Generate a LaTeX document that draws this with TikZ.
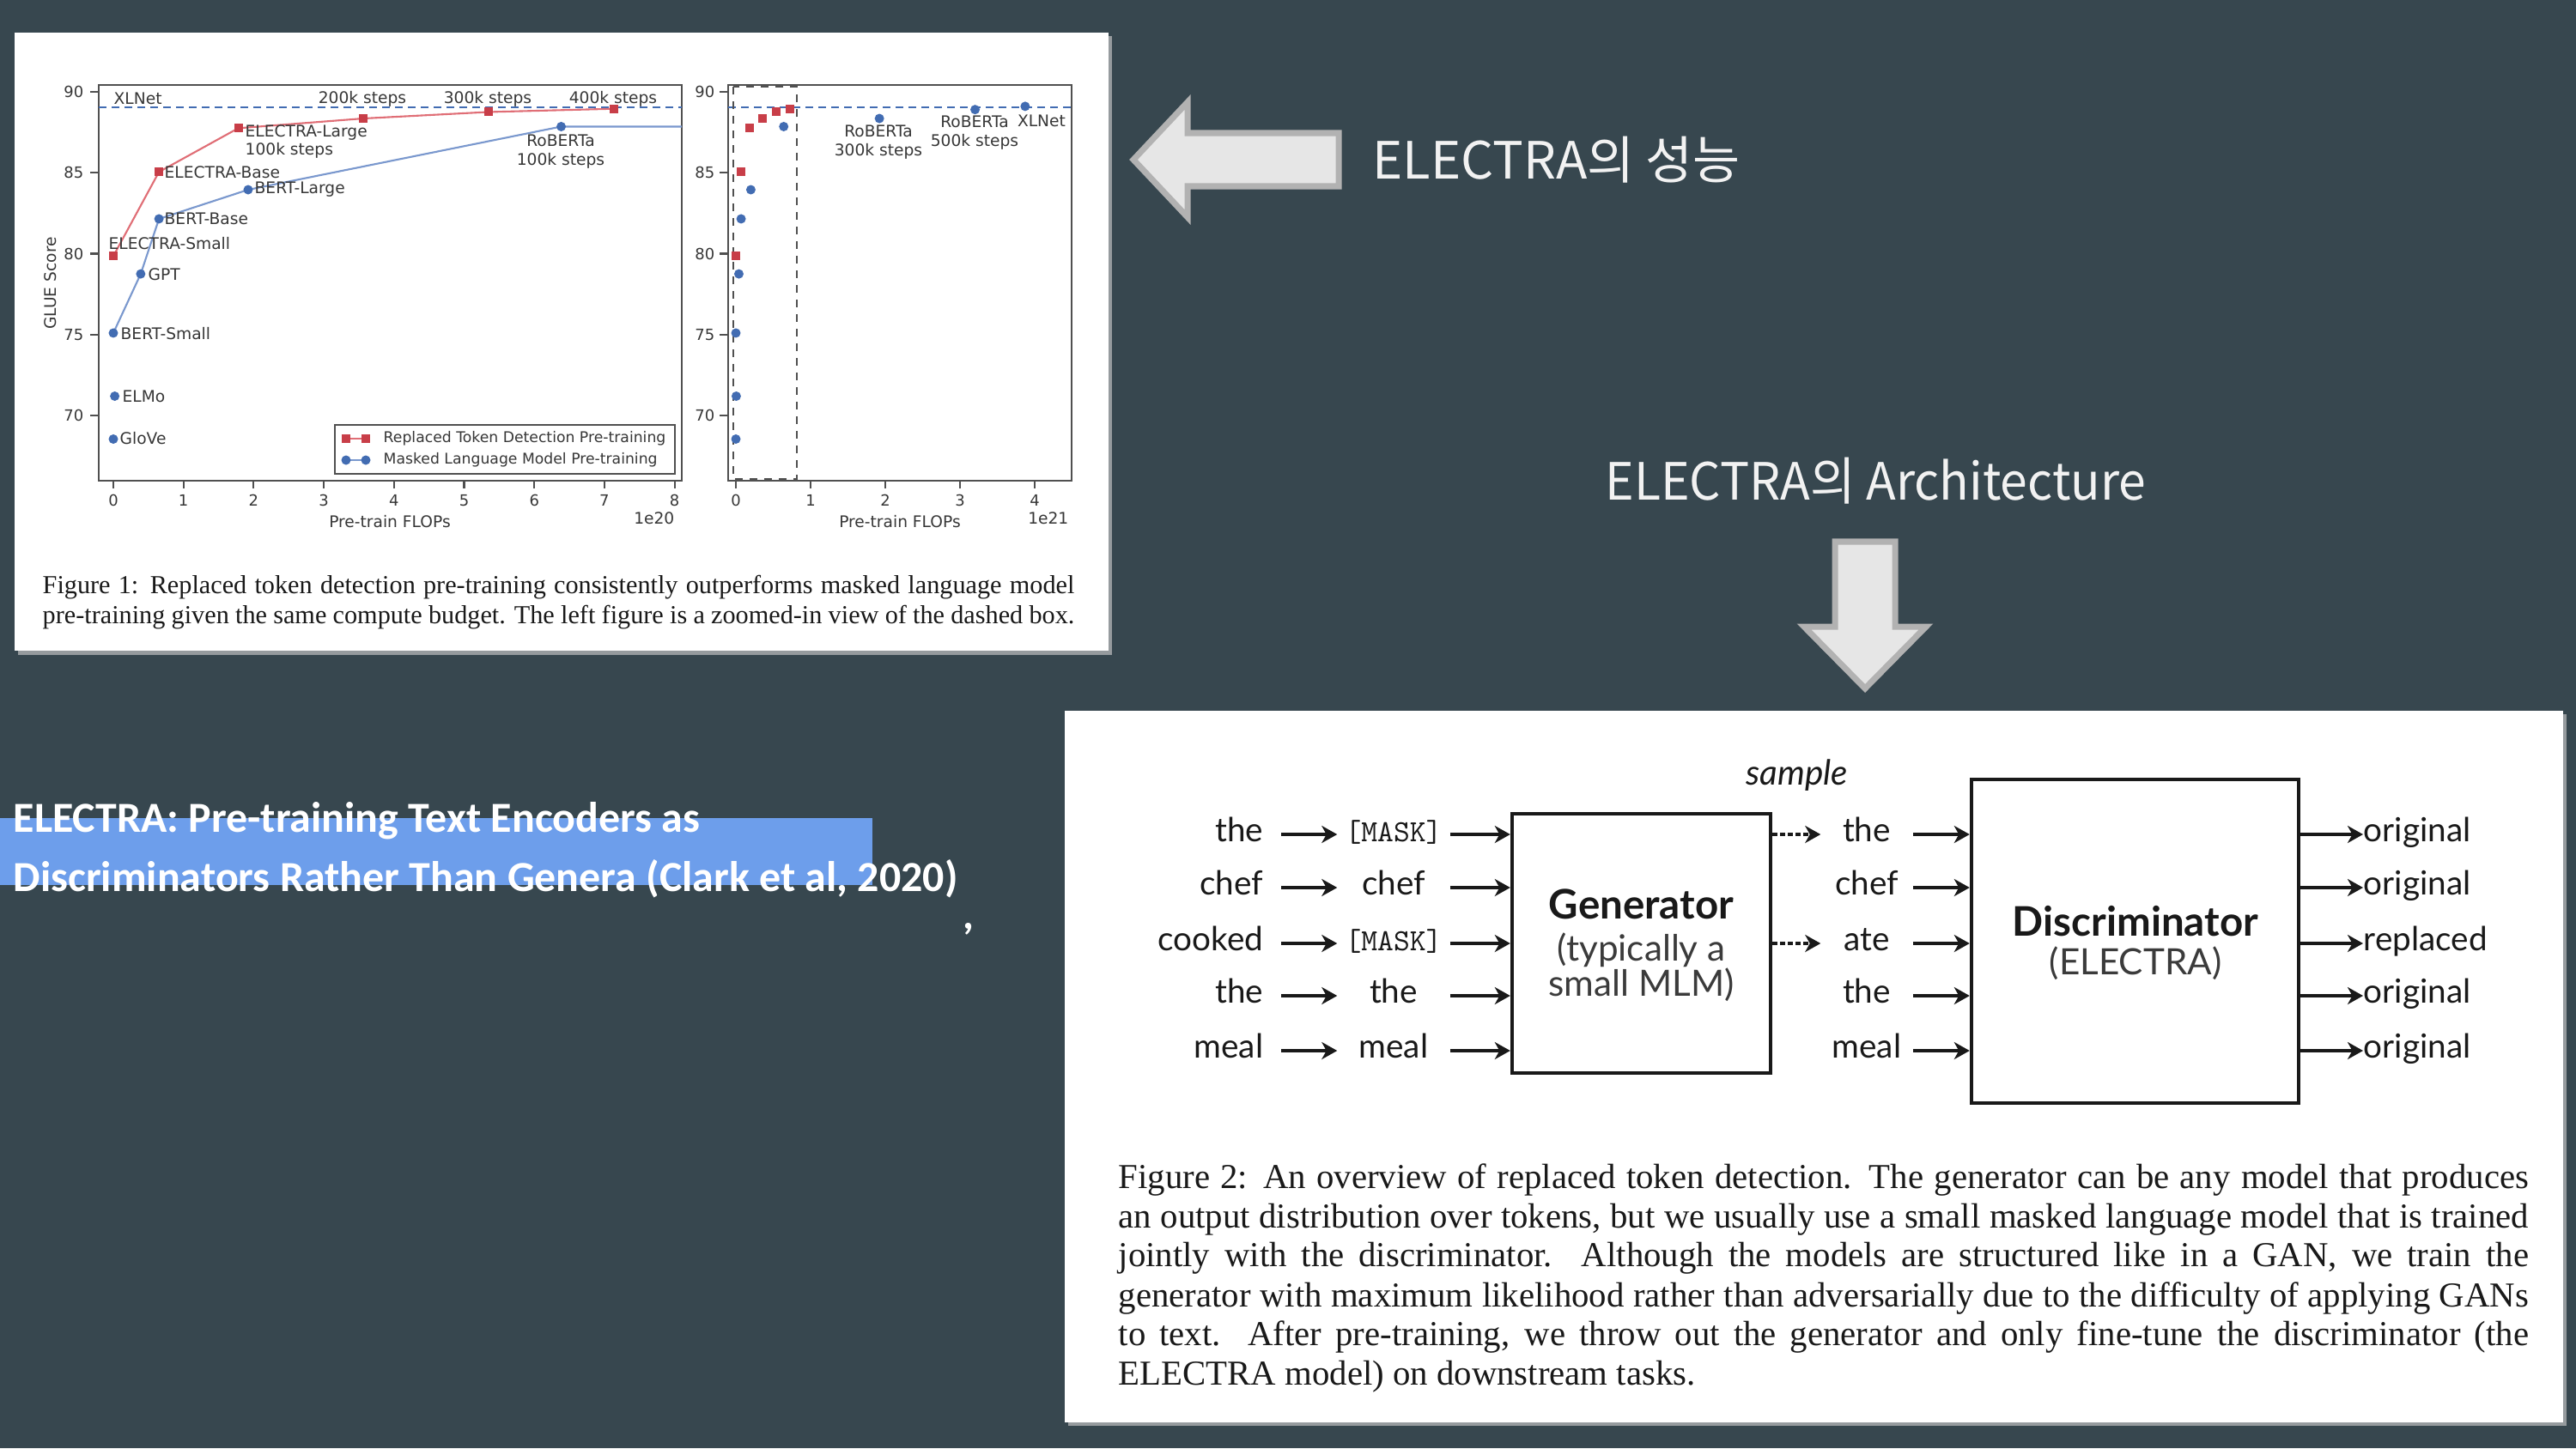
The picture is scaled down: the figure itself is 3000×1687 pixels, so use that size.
\documentclass[tikz,border=0pt]{standalone}
\usepackage{fontspec}
\setmainfont{Liberation Serif}
\newfontfamily\plotfont{DejaVu Sans}
\newfontfamily\latofont{Lato}
\newfontfamily\krfont{Noto Sans CJK KR}
\newfontfamily\titlefont{Carlito}
\usetikzlibrary{arrows.meta}

\definecolor{slate}{RGB}{55,71,79}
\definecolor{hlblue}{RGB}{109,158,235}
\definecolor{panelshade}{RGB}{150,155,158}
\definecolor{rtd}{RGB}{200,62,72}
\definecolor{rtdline}{RGB}{224,110,118}
\definecolor{mlm}{RGB}{66,108,178}
\definecolor{mlmline}{RGB}{122,152,206}
\definecolor{plottext}{RGB}{55,55,55}
\definecolor{plotframe}{RGB}{80,80,80}
\definecolor{arrowfill}{RGB}{230,230,230}
\definecolor{arrowedge}{RGB}{178,178,178}
\definecolor{slidetext}{RGB}{242,242,242}
\definecolor{ink}{RGB}{25,25,25}

\newcommand{\masktok}{{\ttfamily\fontsize{10.2pt}{12pt}\selectfont[MASK]}}

\tikzset{
  plotlbl/.style={font=\plotfont\fontsize{5.3pt}{6.2pt}\selectfont, text=plottext, inner sep=0pt},
  ticklbl/.style={font=\plotfont\fontsize{5.1pt}{6pt}\selectfont, text=plottext, inner sep=0pt},
  legendlbl/.style={font=\plotfont\fontsize{4.9pt}{6pt}\selectfont, text=plottext, inner sep=0pt},
  rsq/.style={rectangle, fill=rtd, minimum size=1mm, inner sep=0pt},
  bdot/.style={circle, fill=mlm, minimum size=1.1mm, inner sep=0pt},
  rtdcurve/.style={draw=rtdline, line width=0.6pt},
  mlmcurve/.style={draw=mlmline, line width=0.6pt},
  axframe/.style={draw=plotframe, line width=0.7pt},
  axtick/.style={draw=plotframe, line width=0.6pt},
  xlnetline/.style={draw=mlm, line width=0.8pt, dash pattern=on 0.9mm off 0.6mm},
  zoombox/.style={draw=plotframe, line width=0.75pt, dash pattern=on 0.9mm off 0.8mm},
  legendframe/.style={draw=plotframe, line width=0.5pt},
  capone/.style={font=\fontsize{8.6pt}{9.5pt}\selectfont, text=ink, inner sep=0pt, anchor=mid west},
  captwo/.style={font=\fontsize{11.6pt}{13pt}\selectfont, text=ink, inner sep=0pt, anchor=mid west},
  tok/.style={font=\latofont\fontsize{11pt}{13pt}\selectfont, text=ink, inner sep=0pt},
  tokarrow/.style={draw=ink, line width=1pt, -{Stealth[length=1.8mm, width=2mm, inset=0.55mm]}},
  samplearrow/.style={tokarrow, dash pattern=on 0.55mm off 0.35mm},
  modelbox/.style={draw=ink, line width=1.2pt, fill=white, inner sep=0pt},
  modeltitle/.style={font=\latofont\bfseries\fontsize{13.5pt}{15pt}\selectfont, text=ink, inner sep=0pt},
  modelsub/.style={font=\latofont\fontsize{12pt}{13pt}\selectfont, text=ink!85, inner sep=0pt},
  blockarrow/.style={fill=arrowfill, draw=arrowedge, line width=2pt, line join=miter},
  slidelbl/.style={font=\krfont\fontsize{17pt}{20pt}\selectfont, text=slidetext, inner sep=0pt},
  reftitle/.style={font=\titlefont\bfseries\fontsize{14.2pt}{17pt}\selectfont, text=white, inner sep=0pt},
}

\begin{document}
\begin{tikzpicture}[x=0.01cm, y=-0.01cm]
\useasboundingbox (0,0) rectangle (3000,1687);
\fill[slate] (0,0) rectangle (3000,1687);

% ---------- Figure 1 panel ----------
\fill[panelshade] (21,42) rectangle (1295,763);
\fill[white] (17,38) rectangle (1291,758);

% left plot: frame, ticks, labels
\draw[axframe] (115,99) rectangle (794,560);
\foreach \v/\y in {90/107, 85/201.25, 80/295.5, 75/389.75, 70/484}{
  \draw[axtick] (105,\y) -- (115,\y);
  \node[ticklbl, anchor=east] (ly\v) at (98,\y) {\v};
  \draw[axtick] (838,\y) -- (848,\y);
  \node[ticklbl, anchor=east] (ry\v) at (833,\y) {\v};
}
\foreach \k/\x in {0/132, 1/213.7, 2/295.4, 3/377.1, 4/458.8, 5/540.5, 6/622.2, 7/703.9, 8/785.6}{
  \draw[axtick] (\x,560) -- (\x,569);
  \node[ticklbl] (lx\k) at (\x,583) {\k};
}
\node[plotlbl] (lxlabel) at (454,608) {Pre-train FLOPs};
\node[plotlbl, anchor=east] (lexp) at (786,604) {1e20};
\node[plotlbl, rotate=90] (ylabel) at (59,330) {GLUE Score};

% left plot: XLNet reference line
\draw[xlnetline] (115,124.9) -- (794,124.9);

\begin{scope}[shift={(132,1803.5)}, x=0.817cm, y=0.1885cm]
  % replaced token detection (ELECTRA) runs
  \coordinate (cr1) at (0,79.8);
  \coordinate (cr2) at (0.65,85.0);
  \coordinate (cr3) at (1.78,87.7);
  \coordinate (cr4) at (3.56,88.3);
  \coordinate (cr5) at (5.34,88.7);
  \coordinate (cr6) at (7.13,88.9);
  % masked language models
  \coordinate (cb1) at (0,75.05);
  \coordinate (cb2) at (0.39,78.7);
  \coordinate (cb3) at (0.65,82.1);
  \coordinate (cb4) at (1.92,83.9);
  \coordinate (cb5) at (6.38,87.8);
  \coordinate (bend) at (8.1,87.8);
  \coordinate (cglove) at (0,68.5);
  \coordinate (celmo) at (0.02,71.15);
\end{scope}
\draw[rtdcurve] (cr1) -- (cr2) -- (cr3) -- (cr4) -- (cr5) -- (cr6);
\draw[mlmcurve] (cb1) -- (cb2) -- (cb3) -- (cb4) -- (cb5) -- (bend);
\foreach \i in {1,...,6} \node[rsq] (r\i) at (cr\i) {};
\foreach \i in {1,...,5} \node[bdot] (b\i) at (cb\i) {};
\node[bdot] (glove) at (cglove) {};
\node[bdot] (elmo) at (celmo) {};

% left plot: point labels
\node[plotlbl, anchor=west] (lxlnet) at (132,115) {XLNet};
\node[plotlbl] (s200) at (422,115) {200k steps};
\node[plotlbl] (s300) at (568,115) {300k steps};
\node[plotlbl] (s400) at (714,115) {400k steps};
\node[plotlbl, anchor=west, align=left] (elarge) at (285,165) {ELECTRA-Large\\100k steps};
\node[plotlbl, anchor=west] (ebase) at (191,201) {ELECTRA-Base};
\node[plotlbl, anchor=west] (blarge) at (296,221) {BERT-Large};
\node[plotlbl, anchor=west] (bbase) at (191,255) {BERT-Base};
\node[plotlbl, anchor=west] (esmall) at (126,284) {ELECTRA-Small};
\node[plotlbl, anchor=west] (gpt) at (172,320) {GPT};
\node[plotlbl, anchor=west] (bsmall) at (140,389) {BERT-Small};
\node[plotlbl, anchor=west] (elmolbl) at (142,462) {ELMo};
\node[plotlbl, anchor=west] (glovelbl) at (139,511) {GloVe};
\node[plotlbl, align=center] (rob100) at (653,177) {RoBERTa\\100k steps};

% left plot: legend
\draw[legendframe] (390,495) rectangle (786,552);
\draw[rtdcurve] (403,511) -- (426,511);
\node[rsq] (legr1) at (403,511) {};
\node[rsq] (legr2) at (426,511) {};
\node[legendlbl, anchor=west] (legrtd) at (446,511) {Replaced Token Detection Pre-training};
\draw[mlmcurve] (403,536) -- (426,536);
\node[bdot] (legb1) at (403,536) {};
\node[bdot] (legb2) at (426,536) {};
\node[legendlbl, anchor=west] (legmlm) at (446,536) {Masked Language Model Pre-training};

% right plot: frame, ticks, labels
\draw[axframe] (848,99) rectangle (1248,560);
\foreach \k/\x in {0/857, 1/944, 2/1031, 3/1118, 4/1205}{
  \draw[axtick] (\x,560) -- (\x,569);
  \node[ticklbl] (rx\k) at (\x,583) {\k};
}
\node[plotlbl] (rxlabel) at (1048,608) {Pre-train FLOPs};
\node[plotlbl, anchor=east] (rexp) at (1245,604) {1e21};
\draw[xlnetline] (848,124.9) -- (1248,124.9);
\draw[zoombox] (854,101) rectangle (928,558);

\begin{scope}[shift={(857,1803.5)}, x=0.87cm, y=0.1885cm]
  \node[rsq] (rra) at (0,79.8) {};
  \node[rsq] (rrb) at (0.07,85.0) {};
  \node[rsq] (rrc) at (0.18,87.7) {};
  \node[rsq] (rrd) at (0.36,88.3) {};
  \node[rsq] (rre) at (0.54,88.7) {};
  \node[rsq] (rrf) at (0.72,88.9) {};
  \node[bdot] (rba) at (0,68.5) {};
  \node[bdot] (rbb) at (0.005,71.15) {};
  \node[bdot] (rbc) at (0,75.05) {};
  \node[bdot] (rbd) at (0.04,78.7) {};
  \node[bdot] (rbe) at (0.07,82.1) {};
  \node[bdot] (rbf) at (0.2,83.9) {};
  \node[bdot] (rbg) at (0.64,87.8) {};
  \node[bdot] (rob300) at (1.92,88.3) {};
  \node[bdot] (rob500) at (3.2,88.85) {};
  \node[bdot] (xlnet) at (3.87,89.05) {};
\end{scope}
\node[plotlbl, align=center] (rob300lbl) at (1023,166) {RoBERTa\\300k steps};
\node[plotlbl, align=center] (rob500lbl) at (1135,155) {RoBERTa\\500k steps};
\node[plotlbl] (xlnetlbl) at (1213,141) {XLNet};

% Figure 1 caption
\node[capone] (cap1a) at (49,683) {\makebox[341.7pt][s]{Figure 1: Replaced token detection pre-training consistently outperforms masked language model}};
\node[capone] (cap1b) at (49,718) {\makebox[341.7pt][s]{pre-training given the same compute budget. The left figure is a zoomed-in view of the dashed box.}};

% ---------- slide labels and block arrows ----------
\draw[blockarrow] (1320,186) -- (1383,119) -- (1383,155) -- (1559,155) -- (1559,217) -- (1383,217) -- (1383,253) -- cycle;
\node[slidelbl, anchor=west] (perf) at (1598,186) {ELECTRA의 성능};
\node[slidelbl, anchor=west] (arch) at (1869,560) {\scalebox{0.955}[1]{ELECTRA의 Architecture}};
\draw[blockarrow] (2137,631) -- (2207,631) -- (2207,730) -- (2243,730) -- (2172,802) -- (2101,730) -- (2137,730) -- cycle;

% paper reference
\fill[hlblue] (0,953) rectangle (1016,1031);
\node[reftitle, anchor=base west] (ref1) at (15,969) {ELECTRA: Pre-training Text Encoders as};
\node[reftitle, anchor=base west] (ref2) at (15,1038) {Discriminators Rather Than Genera (Clark et al, 2020)};
\node[reftitle, anchor=base west] (refcomma) at (1121,1082) {,};

% ---------- Figure 2 panel ----------
\fill[panelshade] (1244,832) rectangle (2989,1661);
\fill[white] (1240,828) rectangle (2985,1657);

\node[modelbox, minimum width=3.01cm, minimum height=3.02cm] (gen) at (1911.5,1099) {};
\node[modeltitle] (gentitle) at (1911.5,1053) {Generator};
\node[modelsub] (gensub1) at (1911.5,1107) {(typically a};
\node[modelsub] (gensub2) at (1911.5,1147) {small MLM)};

\node[modelbox, minimum width=3.81cm, minimum height=3.77cm] (disc) at (2486.5,1096.5) {};
\node[modeltitle] (disctitle) at (2487,1073) {Discriminator};
\node[modelsub] (discsub) at (2487,1122) {(ELECTRA)};

\node[tok, font=\latofont\itshape\fontsize{11.5pt}{13pt}\selectfont] (sample) at (2093,903) {sample};

\foreach \i/\y/\w/\m/\d/\o in {1/972/the/\masktok/the/original, 2/1034/chef/chef/chef/original, 3/1099/cooked/\masktok/ate/replaced, 4/1160/the/the/the/original, 5/1224/meal/meal/meal/original}{
  \node[tok, anchor=mid east] (in\i) at (1472,\y) {\w};
  \node[tok, minimum width=1.3cm, anchor=mid] (m\i) at (1623,\y) {\m};
  \node[tok, minimum width=1.06cm, anchor=mid] (d\i) at (2174,\y) {\d};
  \node[tok, anchor=mid west] (o\i) at (2752,\y) {\o};
  \draw[tokarrow, shorten <=2mm] (in\i.mid east) -- (m\i.mid west);
  \draw[tokarrow] (m\i.mid east) -- (m\i.mid east -| gen.west);
  \draw[tokarrow] (d\i.mid east) -- (d\i.mid east -| disc.west);
  \draw[tokarrow] (o\i.mid west -| disc.east) -- (o\i.mid west);
}
\foreach \i in {1,3}
  \draw[samplearrow] (d\i.mid west -| gen.east) -- (d\i.mid west);

% Figure 2 caption
\node[captwo] (cap2a) at (1302,1376) {\makebox[467pt][s]{Figure 2: An overview of replaced token detection. The generator can be any model that produces}};
\node[captwo] (cap2b) at (1302,1422) {\makebox[467pt][s]{an output distribution over tokens, but we usually use a small masked language model that is trained}};
\node[captwo] (cap2c) at (1302,1467) {\makebox[467pt][s]{jointly with the discriminator.  Although the models are structured like in a GAN, we train the}};
\node[captwo] (cap2d) at (1302,1514) {\makebox[467pt][s]{generator with maximum likelihood rather than adversarially due to the difficulty of applying GANs}};
\node[captwo] (cap2e) at (1302,1559) {\makebox[467pt][s]{to text.  After pre-training, we throw out the generator and only fine-tune the discriminator (the}};
\node[captwo] (cap2f) at (1302,1605) {ELECTRA model) on downstream tasks.};
\end{tikzpicture}
\end{document}
